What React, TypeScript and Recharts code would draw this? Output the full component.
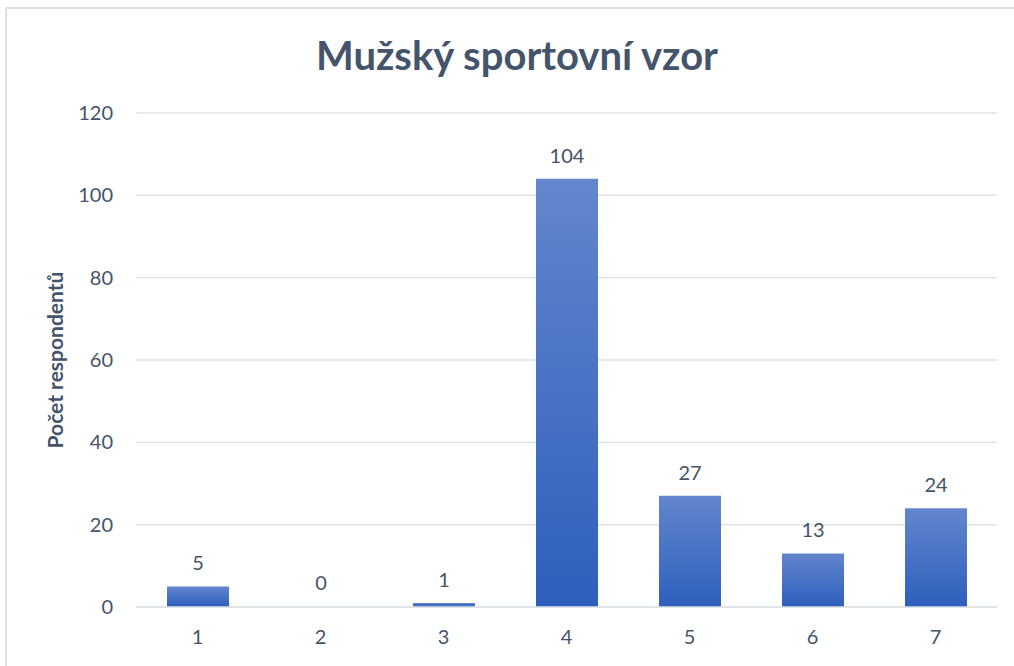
import React from 'react';
import { BarChart, Bar, XAxis, YAxis, CartesianGrid, LabelList, Label, Cell } from 'recharts';

const categories = ['1', '2', '3', '4', '5', '6', '7'];
const respondents = [5, 0, 1, 104, 27, 13, 24];
const yTicks = [0, 20, 40, 60, 80, 100, 120];
const title = 'Mužský sportovní vzor';
const yLabel = 'Počet respondentů';

const data = categories.map((c, i) => ({ category: c, value: respondents[i] }));

const TEXT = '#44546A';
const GRID = '#DFE2E6';
const FONT = 'Lato, "Open Sans", sans-serif';

export default function App() {
  return (
    <div style={{ position: 'absolute', left: 0, top: 0, width: 1014, height: 666, overflow: 'hidden', background: '#fff', fontFamily: FONT }}>
      <div style={{ position: 'absolute', left: 5, top: 7, width: 1030, height: 700, border: '2px solid #DDE2E8', boxSizing: 'border-box' }} />
      <div style={{ position: 'absolute', left: 10, top: 27, width: 1014, textAlign: 'center', fontSize: 40, fontWeight: 700, color: TEXT, lineHeight: '56px' }}>
        {title}
      </div>
      <div style={{ position: 'absolute', left: 0, top: 0 }}>
        <BarChart width={1014} height={666} data={data} margin={{ top: 113, right: 17, bottom: 19, left: 76 }}>
          <defs>
            <linearGradient id="barGrad" x1="0" y1="0" x2="0" y2="1">
              <stop offset="0%" stopColor="#6386CD" />
              <stop offset="100%" stopColor="#2E5FBD" />
            </linearGradient>
          </defs>
          <CartesianGrid vertical={false} stroke={GRID} strokeWidth={1.5} />
          <XAxis
            dataKey="category"
            height={40}
            axisLine={{ stroke: GRID, strokeWidth: 1.5 }}
            tickLine={false}
            tickSize={0}
            tickMargin={23}
            tick={{ fill: TEXT, fontSize: 20, fontFamily: FONT }}
          />
          <YAxis
            width={60}
            domain={[0, 120]}
            ticks={yTicks}
            axisLine={false}
            tickLine={false}
            tickSize={0}
            tickMargin={23}
            tick={{ fill: TEXT, fontSize: 20, fontFamily: FONT }}
          >
            <Label
              value={yLabel}
              angle={-90}
              position="insideLeft"
              offset={-20}
              style={{ fill: TEXT, fontSize: 21, fontWeight: 700, fontFamily: FONT, textAnchor: 'middle' }}
            />
          </YAxis>
          <Bar dataKey="value" fill="url(#barGrad)" barSize={62} minPointSize={1} isAnimationActive={false}>
            {data.map((d, i) => (
              <Cell key={i} fill={d.value === 0 ? 'transparent' : 'url(#barGrad)'} />
            ))}
            <LabelList dataKey="value" position="top" offset={16} style={{ fill: TEXT, fontSize: 20, fontFamily: FONT }} />
          </Bar>
        </BarChart>
      </div>
    </div>
  );
}
